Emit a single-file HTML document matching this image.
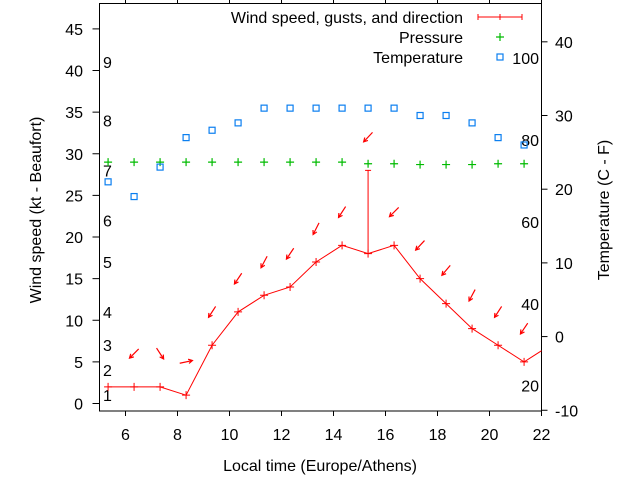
<!DOCTYPE html>
<html><head><meta charset="utf-8">
<style>
html,body{margin:0;padding:0;background:#fff;}
svg{display:block;font-family:"Liberation Sans","DejaVu Sans",sans-serif;}
text{font-size:16px;fill:#000;}
</style></head>
<body>
<svg id="chart" width="640" height="480" viewBox="0 0 640 480" xmlns="http://www.w3.org/2000/svg">
<g id="axes"></g>
<g id="marks"></g>
<g id="legend"></g>
</svg>
<script>
const times=[5.33,6.33,7.33,8.33,9.33,10.33,11.33,12.33,13.33,14.33,15.33,16.33,17.33,18.33,19.33,20.33,21.33,22.33];
const windSpeed=[2,2,2,1,7,11,13,14,17,19,18,19,15,12,9,7,5,7];
const windGust=[null,null,null,null,null,null,null,null,null,null,28,null,null,null,null,null,null,null];
const windDir=[null,45,327,258,33,34,28,34,27,33,43,45,43,40,28,33,34,null];
const pressure=[29,29,29,29,29,29,29,29,29,29,28.8,28.8,28.7,28.7,28.7,28.8,28.8];
const temperature=[21,19,23,27,28,29,31,31,31,31,31,31,30,30,29,27,26];
const xTicks=[6,8,10,12,14,16,18,20,22];
const yTicks=[0,5,10,15,20,25,30,35,40,45];
const y2Ticks=[-10,0,10,20,30,40];
const beaufortKt=[1,4,7,11,17,22,28,34,41];
const beaufortLabels=["1","2","3","4","5","6","7","8","9"];
const fahrenheit=[20,40,60,80,100];

const L=99.5,R=541.5,T=3.5,B=411;
const xMin=5,xMax=22,yMin=-0.9,yMax=48.05,y2Min=-10.1,y2Max=45.2;
const sx=v=>L+(v-xMin)/(xMax-xMin)*(R-L);
const sy=v=>B-(v-yMin)/(yMax-yMin)*(B-T);
const sy2=v=>B-(v-y2Min)/(y2Max-y2Min)*(B-T);
const NS="http://www.w3.org/2000/svg";
function mk(parent,tag,attrs,txt){const e=document.createElementNS(NS,tag);for(const k in attrs)e.setAttribute(k,attrs[k]);if(txt!==undefined)e.textContent=txt;parent.appendChild(e);return e;}
const axes=document.getElementById('axes'),marks=document.getElementById('marks'),legend=document.getElementById('legend');

const defs=mk(document.getElementById('chart'),'defs',{});
const cp=mk(defs,'clipPath',{id:'clip'});mk(cp,'rect',{x:L,y:T,width:R-L,height:B-T});

let fr=mk(axes,'rect',{x:L,y:T,width:R-L,height:B-T,fill:'none',stroke:'#000','stroke-width':1});

xTicks.forEach(v=>{const x=sx(v);
 mk(axes,'line',{x1:x,x2:x,y1:B,y2:B+5,stroke:'#000'});
 mk(axes,'line',{x1:x,x2:x,y1:T,y2:T-5,stroke:'#000'});
 const t=mk(axes,'text',{x:x,y:B+29,'text-anchor':'middle'},String(v));
 
});
yTicks.forEach(v=>{const y=sy(v);
 mk(axes,'line',{x1:L-7,x2:L,y1:y,y2:y,stroke:'#000'});
 const t=mk(axes,'text',{x:83,y:y+6,'text-anchor':'end'},String(v));
 
});
y2Ticks.forEach(v=>{const y=sy2(v);
 mk(axes,'line',{x1:R,x2:R+6,y1:y,y2:y,stroke:'#000'});
 const t=mk(axes,'text',{x:555,y:y+6,'text-anchor':'start'},String(v));
 
});
beaufortKt.forEach((v,i)=>{
 const t=mk(axes,'text',{x:103,y:sy(v)+6},beaufortLabels[i]);
 
});
fahrenheit.forEach(f=>{const c=(f-32)*5/9;
 const t=mk(axes,'text',{x:539,y:sy2(c)+6,'text-anchor':'end'},String(f));
 
});
let t1=mk(axes,'text',{x:320,y:471,'text-anchor':'middle'},'Local time (Europe/Athens)');

let t2=mk(axes,'text',{x:0,y:0,'text-anchor':'middle',transform:'translate(41,210) rotate(-90)'},'Wind speed (kt - Beaufort)');

let t3=mk(axes,'text',{x:0,y:0,'text-anchor':'middle',transform:'translate(609,210) rotate(-90)'},'Temperature (C - F)');


const g=mk(marks,'g',{'clip-path':'url(#clip)'});
let pts=times.map((t,i)=>sx(t)+','+sy(windSpeed[i])).join(' ');
let wl=mk(g,'polyline',{points:pts,fill:'none',stroke:'#f00','stroke-width':1});

times.forEach((t,i)=>{const x=sx(t),y=sy(windSpeed[i]);
 const p=mk(g,'path',{d:`M${x-4},${y}H${x+4}M${x},${y-4}V${y+4}`,stroke:'#f00','stroke-width':1});
 
 if(windGust[i]!=null){const yg=sy(windGust[i]);
  const e=mk(g,'path',{d:`M${x},${y}V${yg}M${x-3},${yg}H${x+3}`,stroke:'#f00','stroke-width':1});
  }
 if(windDir[i]!=null){const top=Math.max(windSpeed[i],windGust[i]||0)+4;
  const cy=sy(top),r=Math.PI/180*windDir[i];
  const dx=-Math.sin(r),dy=Math.cos(r),len=6.5;
  const x1=x-dx*len,y1=cy-dy*len,x2=x+dx*len,y2=cy+dy*len;
  const h=4.5,a=0.5,bx=-dx,by=-dy;
  const hx1=x2+h*(bx*Math.cos(a)-by*Math.sin(a)),hy1=y2+h*(bx*Math.sin(a)+by*Math.cos(a));
  const hx2=x2+h*(bx*Math.cos(-a)-by*Math.sin(-a)),hy2=y2+h*(bx*Math.sin(-a)+by*Math.cos(-a));
  const ar=mk(g,'path',{d:`M${x1},${y1}L${x2},${y2}M${hx1},${hy1}L${x2},${y2}L${hx2},${hy2}`,stroke:'#f00','stroke-width':1.2,fill:'none'});
  }
});
pressure.forEach((v,i)=>{const x=sx(times[i]),y=sy(v);
 const p=mk(g,'path',{d:`M${x-4},${y}H${x+4}M${x},${y-4}V${y+4}`,stroke:'#0b0','stroke-width':1.2});
 
});
temperature.forEach((v,i)=>{const x=sx(times[i]),y=sy2(v);
 const p=mk(g,'rect',{x:x-3,y:y-3,width:6,height:6,fill:'none',stroke:'#0a7ef0','stroke-width':1.2});
 
});

const rows=[['Wind speed, gusts, and direction',17],['Pressure',37],['Temperature',57]];
rows.forEach(r=>{const t=mk(legend,'text',{x:463,y:r[1]+6,'text-anchor':'end'},r[0]);
 });
let l1=mk(legend,'path',{d:'M478,17H522M478,14V20M522,14V20M500,14V20',stroke:'#f00','stroke-width':1});

let l2=mk(legend,'path',{d:'M496,37H504M500,33V41',stroke:'#0b0','stroke-width':1.2});

let l3=mk(legend,'rect',{x:497,y:54,width:6,height:6,fill:'none',stroke:'#0a7ef0','stroke-width':1.2});

</script>
</body></html>
